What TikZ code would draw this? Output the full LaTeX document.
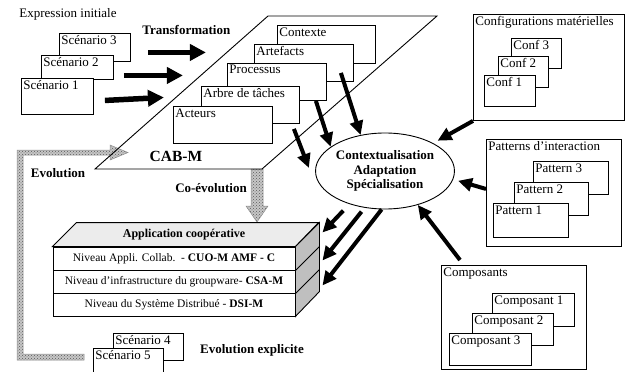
\documentclass[tikz,border=0pt]{standalone}
\usepackage{fontspec}
\setmainfont{Liberation Serif}
\usetikzlibrary{arrows.meta,shapes.geometric,patterns}

\begin{document}
\begin{tikzpicture}[x=1pt, y=-1pt, line width=0.9pt,
    txt/.style={font=\fontsize{13}{15}\selectfont},
    bold/.style={font=\fontsize{13}{15}\selectfont\bfseries},
    box/.style={draw, fill=white, anchor=north west, inner sep=0pt},
    lbl/.style={anchor=north west, inner sep=2pt, font=\fontsize{13}{15}\selectfont},
    row/.style={draw, fill=white, minimum width=242pt, minimum height=23pt, inner sep=0pt, font=\fontsize{11.5}{13}\selectfont},
    bigarr/.style={line width=4pt, -{Triangle[length=14pt,width=13pt]}},
    fatarr/.style={line width=5.5pt, -{Triangle[length=16pt,width=16pt]}},
    hatch/.style={draw=gray!90, line width=0.5pt, preaction={fill=gray!45}, pattern=crosshatch dots, pattern color=black!65}]
  \useasboundingbox (0,0) rectangle (627,372);

  % evolution loops
  \draw[hatch] (84,360) -- (17,360) -- (17,150) -- (110,150) -- (110,145) -- (128,152.5) -- (110,160) -- (110,155) -- (23,155) -- (23,354) -- (84,354) -- cycle;
  \draw[hatch] (251,169) -- (251,206) -- (246,206) -- (257,222) -- (268,206) -- (263,206) -- (263,169) -- cycle;

  % CAB-M
  \draw (95,169) -- (268,16) -- (437,16) -- (262,169) -- cycle;
  \node[font=\fontsize{15.5}{18}\selectfont\bfseries] (cab) at (176,156) {CAB-M};
  \node[box, minimum width=98pt, minimum height=38pt, label={[lbl]north west:Contexte}] (cont) at (277,25) {};
  \node[box, minimum width=99pt, minimum height=37pt, label={[lbl]north west:Artefacts}] (art) at (254,44) {};
  \node[box, minimum width=99pt, minimum height=37pt, label={[lbl]north west:Processus}] (proc) at (227,63) {};
  \node[box, minimum width=98pt, minimum height=37pt, label={[lbl]north west:Arbre de tâches}] (arb) at (201,86) {};
  \node[box, minimum width=99pt, minimum height=37pt, label={[lbl]north west:Acteurs}] (act) at (173,106) {};

  % scenarios
  \node[txt, anchor=west, inner sep=0pt] (expr) at (19,14) {Expression initiale};
  \node[box, minimum width=71pt, minimum height=28pt, label={[lbl]north west:Scénario 3}] (sc3) at (59,33) {};
  \node[box, minimum width=72pt, minimum height=24pt, label={[lbl]north west:Scénario 2}] (sc2) at (41,55) {};
  \node[box, minimum width=72pt, minimum height=36pt, label={[lbl]north west:Scénario 1}] (sc1) at (21,78) {};
  \node[box, minimum width=70pt, minimum height=27pt, label={[lbl]north west:Scénario 4}] (sc4) at (113,333) {};
  \node[box, minimum width=70pt, minimum height=25pt, label={[lbl]north west:Scénario 5}] (sc5) at (93,348) {};

  % right side
  \node[box, minimum width=151pt, minimum height=106pt, label={[lbl]north west:Configurations matérielles}] (conf) at (473,14) {};
  \node[box, minimum width=50pt, minimum height=30pt, label={[lbl]north west:Conf 3}] (cf3) at (511,38) {};
  \node[box, minimum width=50pt, minimum height=31pt, label={[lbl]north west:Conf 2}] (cf2) at (498,56) {};
  \node[box, minimum width=51pt, minimum height=31pt, label={[lbl]north west:Conf 1}] (cf1) at (484,75) {};

  \node[box, minimum width=135pt, minimum height=107pt, label={[lbl]north west:Patterns d’interaction}] (pat) at (486,139) {};
  \node[box, minimum width=75pt, minimum height=33pt, label={[lbl]north west:Pattern 3}] (pt3) at (533,161) {};
  \node[box, minimum width=74pt, minimum height=33pt, label={[lbl]north west:Pattern 2}] (pt2) at (514,182) {};
  \node[box, minimum width=75pt, minimum height=34pt, label={[lbl]north west:Pattern 1}] (pt1) at (493,203) {};

  \node[box, minimum width=145pt, minimum height=104pt, label={[lbl]north west:Composants}] (comp) at (441,265) {};
  \node[box, minimum width=82pt, minimum height=33pt, label={[lbl]north west:Composant 1}] (cp1) at (492,293) {};
  \node[box, minimum width=81pt, minimum height=32pt, label={[lbl]north west:Composant 2}] (cp2) at (472,313) {};
  \node[box, minimum width=82pt, minimum height=32pt, label={[lbl]north west:Composant 3}] (cp3) at (449,333) {};

  \node[draw, ellipse, fill=white, minimum width=126pt, minimum height=76pt, inner sep=0pt, align=center,
        font=\fontsize{13}{14.5}\selectfont\bfseries] (adapt) at (385,171) {Contextualisation\\Adaptation\\Spécialisation};

  % application box
  \node[row] (app1) at (174,258.5) {Niveau Appli. Collab.~~- \textbf{CUO-M AMF - C}};
  \node[row] (app2) at (174,281.5) {Niveau d’infrastructure du groupware- \textbf{CSA-M}};
  \node[row] (app3) at (174,304.5) {Niveau du Système Distribué - \textbf{DSI-M}};
  \draw[fill=gray!15] (app1.north west) -- ++(24,-24) -- ++(242,0) -- (app1.north east) -- cycle;
  \draw[fill=gray!50] (app1.north east) -- ++(24,-24) -- ++(0,69) -- (app3.south east) -- cycle;
  \draw (app1.south east) -- ++(24,-24);
  \draw (app2.south east) -- ++(24,-24);
  \node[font=\fontsize{12}{14}\selectfont\bfseries] (appt) at (184,235) {Application coopérative};

  % labels
  \node[bold, anchor=west, inner sep=0pt] (transf) at (142,30) {Transformation};
  \node[bold] (evol) at (58,173) {Evolution};
  \node[bold] (coev) at (211,188) {Co-évolution};
  \node[bold] (evex) at (252,350) {Evolution explicite};

  % arrows
  \draw[fatarr] ([xshift=17pt,yshift=-5pt]sc3.east) -- ++(58,0);
  \draw[fatarr] ([xshift=10pt,yshift=-8pt]sc2.east) -- ++(59,0);
  \draw[fatarr] ([xshift=11pt,yshift=-4pt]sc1.east) -- ++(59,-3);
  \draw[bigarr] ([xshift=-13pt,yshift=9pt]art.south east) -- (adapt.124);
  \draw[bigarr] ([xshift=-11pt]proc.south east) -- (adapt.156);
  \draw[bigarr] ([xshift=-6pt,yshift=-5pt]arb.south east) -- ++(15,39);
  \draw[bigarr, shorten >=5pt] (conf.south west) -- (adapt.30);
  \draw[bigarr, shorten >=5pt] ([yshift=4pt]pat.west) -- (adapt.-7);
  \draw[bigarr] ([xshift=19pt,yshift=5pt]comp.north west) -- (adapt.-46);
  \draw[bigarr, shorten <=9pt] (adapt.223) -- ([xshift=27pt,yshift=26pt]app1.east);
  \draw[bigarr, shorten <=5pt] (adapt.241) -- ([xshift=27pt,yshift=21pt]app2.east);
  \draw[bigarr] (adapt.265) -- ([xshift=27pt,yshift=19pt]app3.east);
\end{tikzpicture}
\end{document}
